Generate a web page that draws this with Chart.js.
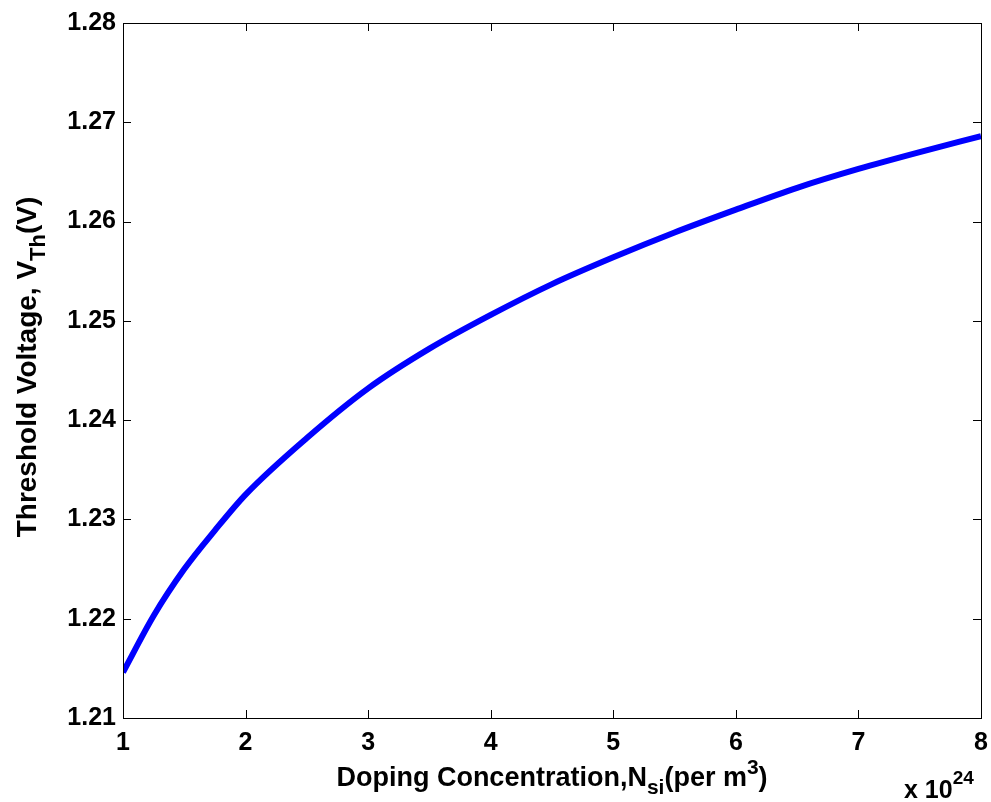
<!DOCTYPE html>
<html>
<head>
<meta charset="utf-8">
<script src="https://cdn.jsdelivr.net/npm/chart.js@4"></script>
<style>
html,body{margin:0;padding:0;background:#fff;}
#wrap{position:relative;width:991px;height:802px;}
</style>
</head>
<body>
<div id="wrap"><canvas id="c" width="991" height="802"></canvas></div>
<script>
// Doping concentration (x 10^24 per m^3)
const dopingX = [1, 1.25, 1.5, 1.75, 2, 2.5, 3, 3.5, 4, 4.5, 5, 5.5, 6, 6.5, 7, 7.5, 8];
// Threshold voltage (V)
const thresholdV = [1.2146, 1.2203, 1.2250, 1.2289, 1.2325, 1.2382, 1.2432, 1.2472, 1.2506, 1.2537, 1.2564, 1.2589, 1.2612, 1.2634, 1.2653, 1.2670, 1.2686];
const xTicks = [1, 2, 3, 4, 5, 6, 7, 8];
const yTicks = [1.21, 1.22, 1.23, 1.24, 1.25, 1.26, 1.27, 1.28];

const FONT = '"Liberation Sans", Arial, Helvetica, sans-serif';

const framePlugin = {
  id: 'matlabFrame',
  afterDraw(chart) {
    const ctx = chart.ctx;
    const a = chart.chartArea;
    const xs = chart.scales.x, ys = chart.scales.y;
    ctx.save();
    ctx.strokeStyle = '#000';
    ctx.lineWidth = 1;
    ctx.strokeRect(Math.round(a.left) + 0.5, Math.round(a.top) + 0.5, Math.round(a.right - a.left), Math.round(a.bottom - a.top));
    const tl = 8;
    ctx.beginPath();
    xTicks.forEach(v => {
      const px = Math.round(xs.getPixelForValue(v)) + 0.5;
      ctx.moveTo(px, a.bottom); ctx.lineTo(px, a.bottom - tl);
      ctx.moveTo(px, a.top); ctx.lineTo(px, a.top + tl);
    });
    yTicks.forEach(v => {
      const py = Math.round(ys.getPixelForValue(v)) + 0.5;
      ctx.moveTo(a.left, py); ctx.lineTo(a.left + tl, py);
      ctx.moveTo(a.right, py); ctx.lineTo(a.right - tl, py);
    });
    ctx.stroke();

    function runs(parts, x, y) {
      let cx = x;
      parts.forEach(p => {
        ctx.font = 'bold ' + p.size + 'px ' + FONT;
        ctx.fillText(p.t, cx, y + (p.dy || 0));
        cx += ctx.measureText(p.t).width;
      });
    }
    function width(parts) {
      let w = 0;
      parts.forEach(p => { ctx.font = 'bold ' + p.size + 'px ' + FONT; w += ctx.measureText(p.t).width; });
      return w;
    }
    ctx.fillStyle = '#000';
    ctx.textBaseline = 'alphabetic';
    ctx.textAlign = 'left';

    // X axis label
    const xl = [
      {t: 'Doping Concentration,N', size: 27},
      {t: 'si', size: 21, dy: 8},
      {t: '(per m', size: 27},
      {t: '3', size: 21, dy: -12},
      {t: ')', size: 27}
    ];
    const xw = width(xl);
    const xc = (a.left + a.right) / 2;
    runs(xl, xc - xw / 2, 786);

    // exponent label
    runs([{t: 'x 10', size: 25}, {t: '24', size: 19, dy: -14}], 904, 798);

    // Y axis label (rotated)
    const yl = [
      {t: 'Threshold Voltage, V', size: 28},
      {t: 'Th', size: 22, dy: 9},
      {t: '(V)', size: 28}
    ];
    const yw = width(yl);
    ctx.translate(36, 367);
    ctx.rotate(-Math.PI / 2);
    runs(yl, -yw / 2, 0);
    ctx.restore();
  }
};

new Chart(document.getElementById('c'), {
  type: 'line',
  data: {
    datasets: [{
      data: dopingX.map((x, i) => ({x: x, y: thresholdV[i]})),
      borderColor: '#0000ff',
      backgroundColor: '#0000ff',
      borderWidth: 6,
      pointRadius: 0,
      fill: false,
      cubicInterpolationMode: 'monotone'
    }]
  },
  options: {
    responsive: false,
    animation: false,
    devicePixelRatio: 1,
    layout: {padding: {left: 0, right: 10, top: 23, bottom: 0}},
    plugins: {legend: {display: false}, tooltip: {enabled: false}},
    scales: {
      x: {
        type: 'linear', min: 1, max: 8,
        afterBuildTicks: s => { s.ticks = xTicks.map(v => ({value: v})); },
        afterFit: s => { s.height = 84; s.paddingRight = 0; s.paddingLeft = 0; },
        grid: {display: false, drawTicks: false},
        border: {display: false},
        ticks: {color: '#000', padding: 10, maxRotation: 0, font: {family: FONT, size: 25, weight: 'bold'}, callback: v => String(v)}
      },
      y: {
        type: 'linear', min: 1.21, max: 1.28,
        afterBuildTicks: s => { s.ticks = yTicks.map(v => ({value: v})); },
        afterFit: s => { s.width = 123; s.paddingTop = 0; s.paddingBottom = 0; },
        grid: {display: false, drawTicks: false},
        border: {display: false},
        ticks: {color: '#000', padding: 7, font: {family: FONT, size: 25, weight: 'bold'}, callback: v => v.toFixed(2)}
      }
    }
  },
  plugins: [framePlugin]
});
</script>
</body>
</html>
